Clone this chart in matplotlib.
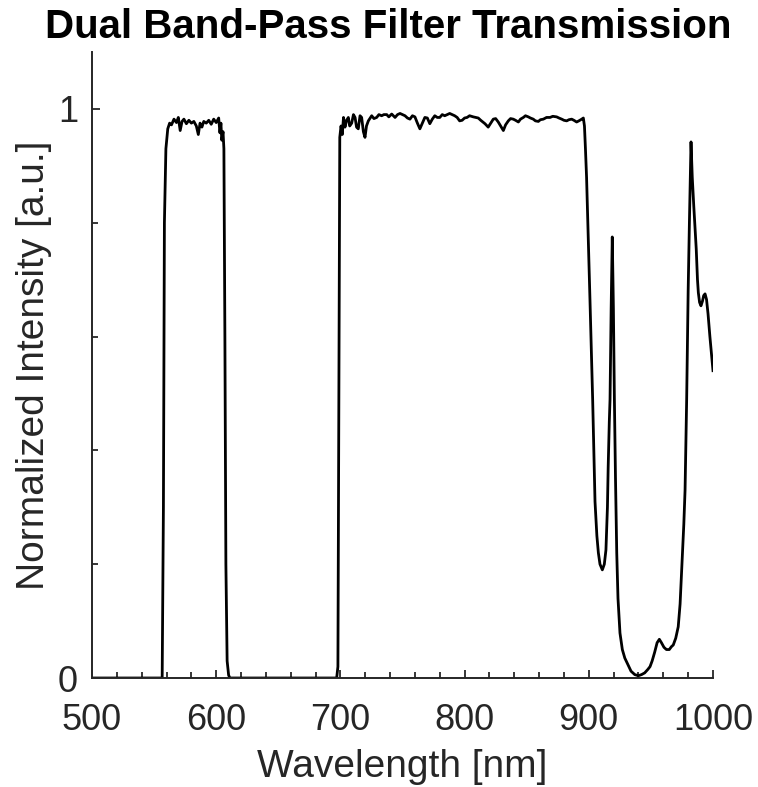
import matplotlib
matplotlib.use("Agg")
import matplotlib.pyplot as plt
from matplotlib.ticker import MultipleLocator, FixedLocator

# ---- data ----
wavelength_nm = [
    500, 556.5, 557.5, 558.3, 559.5, 561, 562.5, 564, 566, 568, 569.5, 571, 572.5, 574,
    576, 578, 580, 582, 584, 585.6, 587, 588.5, 590, 592, 594, 596, 598, 600, 602, 603,
    603.8, 604.5, 605.5, 606.2, 607, 607.8, 608.8, 610, 611,
    697, 698, 698.8, 699.5, 700.5, 701.5, 702.5, 703.7, 705, 706.4, 707.5, 709.1, 710.5,
    711.8, 713, 714.4, 715.8, 717.1, 718.5, 719.8, 721, 722.5, 725.2, 727, 729.2, 731,
    733.2, 735, 737.3, 739, 741.3, 744, 746, 748, 750, 752, 754, 756, 758, 760, 762, 764,
    766, 768, 770, 772, 774, 776, 778, 780, 782, 784, 786, 788, 790, 792, 794, 796, 798,
    800, 802, 804, 807, 809, 811, 813, 816.4, 819, 821, 823.1, 825, 827.1, 829, 831.2,
    833, 835.2, 837, 839.2, 841, 843.3, 845, 847.3, 849, 851.3, 853, 855.3, 857, 859.4,
    861, 863.4, 866, 868.8, 871, 874.1, 876, 878.2, 880, 882.2, 884, 886.2, 888, 890.2,
    892, 894.3, 895.6, 896.5, 897.3, 898.2, 899.5, 901, 903.1, 905, 906.5, 907.7, 909,
    910.9, 912.5, 913.8, 915, 915.6, 916.5, 917.1, 918, 918.9, 919.8, 920.6, 921.5, 922.5,
    923.5, 925.1, 927, 929, 931.8, 934, 937, 939.9, 942.5, 945, 947.5, 949.3, 951, 953,
    955, 956.8, 958.5, 960.5, 962.5, 964.8, 966.5, 968, 970, 972, 973.5, 975, 976.5,
    977.5, 978.8, 980, 981, 982.3, 983.3, 984.5, 986.5, 987.5, 988.2, 989.2, 990.3,
    991.5, 992.5, 993.6, 994.8, 996, 997.5, 999, 1000,
]
transmission = [
    0, 0, 0.30, 0.80, 0.93, 0.965, 0.975, 0.972, 0.982, 0.976, 0.985, 0.962, 0.978, 0.982,
    0.974, 0.980, 0.975, 0.978, 0.970, 0.955, 0.975, 0.968, 0.978, 0.975, 0.980, 0.973,
    0.982, 0.976, 0.984, 0.958,
    0.975, 0.945, 0.960, 0.930, 0.60, 0.20, 0.03, 0.005, 0,
    0, 0.02, 0.50, 0.95, 0.97, 0.955, 0.985, 0.968, 0.980, 0.985, 0.970, 0.975, 0.990,
    0.985, 0.968, 0.965, 0.988, 0.985, 0.960, 0.950, 0.970, 0.979, 0.988, 0.983, 0.985,
    0.990, 0.988, 0.990, 0.990, 0.986, 0.991, 0.985, 0.990, 0.992, 0.990, 0.988, 0.984,
    0.982, 0.988, 0.986, 0.975, 0.965, 0.975, 0.985, 0.984, 0.974, 0.982, 0.988, 0.985,
    0.985, 0.990, 0.988, 0.990, 0.992, 0.990, 0.988, 0.985, 0.979, 0.980, 0.984, 0.985,
    0.988, 0.986, 0.985, 0.984, 0.980, 0.974, 0.968, 0.975, 0.982, 0.983, 0.977, 0.970,
    0.962, 0.972, 0.979, 0.983, 0.982, 0.980, 0.977, 0.982, 0.985, 0.988, 0.986, 0.984,
    0.982, 0.979, 0.978, 0.981, 0.982, 0.985, 0.985, 0.987, 0.986, 0.984, 0.982, 0.980,
    0.979, 0.981, 0.982, 0.980, 0.977, 0.979, 0.982, 0.984, 0.970, 0.930, 0.880, 0.780,
    0.660, 0.490, 0.310, 0.250, 0.220, 0.200, 0.190, 0.200, 0.225, 0.300, 0.370, 0.450,
    0.490, 0.650, 0.775, 0.650, 0.490, 0.350, 0.220, 0.140, 0.079, 0.050, 0.035, 0.022,
    0.012, 0.006, 0.004, 0.006, 0.009, 0.015, 0.020, 0.030, 0.045, 0.062, 0.068, 0.062,
    0.054, 0.050, 0.050, 0.055, 0.058, 0.070, 0.090, 0.130, 0.200, 0.270, 0.330, 0.490,
    0.680, 0.800, 0.942, 0.880, 0.830, 0.754, 0.700, 0.677, 0.660, 0.654, 0.662, 0.672,
    0.675, 0.665, 0.640, 0.600, 0.565, 0.540,
]
x_major_ticks = [500, 600, 700, 800, 900, 1000]
y_major_ticks = [0, 1]
y_tick_labels = ["0", "1"]

title_text = "Dual Band-Pass Filter Transmission"
x_label = "Wavelength [nm]"
y_label = "Normalized Intensity [a.u.]"

# ---- figure ----
plt.rcParams["font.family"] = ["Liberation Sans", "DejaVu Sans"]
text_color = "#262626"

fig = plt.figure(figsize=(7.58, 7.87), dpi=100)
ax = fig.add_axes([92 / 758, 1 - 678 / 787, 621 / 758, 626 / 787])

ax.plot(wavelength_nm, transmission, color="black", linewidth=2.0,
        solid_joinstyle="round")

ax.set_xlim(500, 1000)
ax.set_ylim(0, 1.1)

ax.xaxis.set_major_locator(FixedLocator(x_major_ticks))
ax.xaxis.set_minor_locator(MultipleLocator(20))
ax.yaxis.set_major_locator(FixedLocator(y_major_ticks))
ax.set_yticklabels(y_tick_labels)
ax.yaxis.set_minor_locator(FixedLocator([0.2, 0.4, 0.6, 0.8]))

for side in ("top", "right"):
    ax.spines[side].set_visible(False)
for side in ("left", "bottom"):
    ax.spines[side].set_linewidth(1.4)
    ax.spines[side].set_color(text_color)

ax.tick_params(which="both", direction="in", color=text_color, width=1.3)
ax.tick_params(which="major", length=6, labelsize=26, labelcolor=text_color)
ax.tick_params(axis="x", which="major", pad=18)
ax.tick_params(axis="y", which="major", pad=10)
ax.tick_params(which="minor", length=4)

ax.set_xlabel(x_label, fontsize=28, color=text_color, labelpad=8)
ax.set_ylabel(y_label, fontsize=28, color=text_color, labelpad=4)
ax.set_title(title_text, fontsize=29, fontweight="bold", color="black",
             x=(388 - 92) / 621, pad=10)

fig.savefig("out.png", dpi=100, facecolor="white")
